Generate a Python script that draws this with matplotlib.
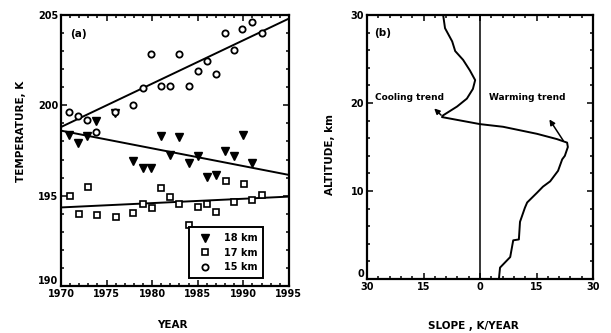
import matplotlib.pyplot as plt
from matplotlib.ticker import MultipleLocator, FuncFormatter
from matplotlib.lines import Line2D

# --- (a) temperature time series ---
years_18 = [1970.9, 1971.9, 1972.9, 1973.8, 1975.9, 1977.9, 1979.0, 1979.9, 1981.0,
            1982.0, 1982.9, 1984.0, 1985.0, 1986.0, 1987.0, 1988.0, 1989.0, 1990.0, 1991.0]
temp_18 = [198.36, 197.9, 198.3, 199.15, 199.6, 196.92, 196.52, 196.52, 198.3,
           197.25, 198.27, 196.83, 197.21, 196.05, 196.15, 197.49, 197.21, 198.36, 196.79]

years_17 = [1971.0, 1972.0, 1973.0, 1974.0, 1976.0, 1977.9, 1979.0, 1980.0, 1981.0, 1982.0,
            1983.0, 1984.0, 1985.0, 1986.0, 1987.0, 1988.1, 1989.0, 1990.1, 1991.0, 1992.0]
temp_17 = [194.98, 193.99, 195.46, 193.92, 193.81, 194.03, 194.52, 194.34, 195.41, 194.95,
           194.56, 193.36, 194.37, 194.52, 194.1, 195.83, 194.65, 195.63, 194.76, 195.04]

years_15 = [1970.9, 1971.9, 1972.9, 1973.8, 1975.9, 1977.9, 1979.0, 1979.9, 1981.0, 1982.0,
            1982.9, 1984.0, 1985.0, 1986.0, 1987.0, 1988.0, 1989.0, 1989.9, 1990.9, 1992.0]
temp_15 = [199.65, 199.43, 199.2, 198.5, 199.65, 200.0, 200.94, 202.82, 201.07, 201.07,
           202.82, 201.07, 201.9, 202.45, 201.72, 204.02, 203.06, 204.23, 204.63, 203.99]

# trend lines (end points as drawn)
trend_years = [1970, 1995]
trend_18 = [198.6, 196.15]
trend_17 = [194.35, 194.95]
trend_15 = [198.8, 204.8]

# --- (b) slope profile vs altitude ---
slope = [5.0, 5.3, 8.0, 8.8, 10.3, 10.6, 11.9, 12.5, 15.1, 16.7, 18.6, 20.7, 21.8, 22.5,
         23.3, 23.1, 20.4, 15.1, 6.1, 0.0, -10.1, -9.8, -6.1, -3.5, -1.9, -1.3, -2.7,
         -4.5, -6.6, -7.4, -9.3, -9.8]
altitude = [0.0, 1.3, 2.5, 4.4, 4.5, 6.5, 8.1, 8.7, 9.8, 10.5, 11.1, 12.3, 13.6, 14.0,
            15.0, 15.5, 15.9, 16.5, 17.3, 17.6, 18.4, 18.6, 19.6, 20.5, 21.6, 22.6, 23.7,
            24.9, 25.9, 27.0, 28.5, 30.0]

BOLD = dict(fontweight='bold', family='DejaVu Sans')


def style_axes(ax):
    for sp in ax.spines.values():
        sp.set_linewidth(1.6)
    ax.tick_params(which='both', direction='in', top=True, right=True,
                   width=1.1, labelsize=7, pad=2)
    ax.tick_params(which='major', length=4)
    ax.tick_params(which='minor', length=2.2)
    for lab in ax.get_xticklabels() + ax.get_yticklabels():
        lab.set_fontweight('bold')


fig = plt.figure(figsize=(6.11, 3.33), dpi=100)

# ---------------- panel (a) ----------------
ax1 = fig.add_axes([0.0998, 0.141, 0.373, 0.814])
ax1.plot(trend_years, trend_15, color='black', lw=1.4, zorder=2)
ax1.plot(trend_years, trend_18, color='black', lw=1.4, zorder=2)
ax1.plot(trend_years, trend_17, color='black', lw=1.4, zorder=2)

ax1.plot(years_18, temp_18, linestyle='none', marker='v', ms=5.3, color='black', zorder=3)
ax1.plot(years_17, temp_17, linestyle='none', marker='s', ms=4, mfc='white',
         mec='black', mew=1.2, zorder=3)
ax1.plot(years_15, temp_15, linestyle='none', marker='o', ms=4.5, mfc='white',
         mec='black', mew=1.3, zorder=3)

ax1.set_xlim(1970, 1995)
ax1.set_ylim(190, 205)
ax1.xaxis.set_major_locator(MultipleLocator(5))
ax1.xaxis.set_minor_locator(MultipleLocator(1))
ax1.yaxis.set_major_locator(MultipleLocator(5))
ax1.yaxis.set_minor_locator(MultipleLocator(1))
style_axes(ax1)

ax1.set_xlabel('YEAR', fontsize=7.5, **BOLD)
ax1.xaxis.set_label_coords(0.49, -0.125)
ax1.set_ylabel('TEMPERATURE, K', fontsize=7.5, **BOLD)
ax1.yaxis.set_label_coords(-0.155, 0.57)
ax1.text(0.04, 0.93, '(a)', transform=ax1.transAxes, fontsize=7.5, va='center', **BOLD)

handles = [
    Line2D([], [], linestyle='none', marker='v', ms=5.3, color='black'),
    Line2D([], [], linestyle='none', marker='s', ms=4, mfc='white', mec='black', mew=1.2),
    Line2D([], [], linestyle='none', marker='o', ms=4.5, mfc='white', mec='black', mew=1.3),
]
leg = ax1.legend(handles, ['18 km', '17 km', '15 km'], loc='lower left',
                 bbox_to_anchor=(0.56, 0.03), fancybox=False, framealpha=1,
                 edgecolor='black', prop=dict(weight='bold', size=7),
                 handletextpad=0.8, labelspacing=0.45, borderpad=0.6,
                 handlelength=2.2, borderaxespad=0)
leg.get_frame().set_linewidth(1.4)

# ---------------- panel (b) ----------------
ax2 = fig.add_axes([0.6007, 0.162, 0.370, 0.793])
ax2.axvline(0, color='black', lw=1.1)
ax2.plot(slope, altitude, color='black', lw=1.4)

ax2.set_xlim(-30, 30)
ax2.set_ylim(0, 30)
ax2.xaxis.set_major_locator(MultipleLocator(15))
ax2.xaxis.set_minor_locator(MultipleLocator(3))
ax2.yaxis.set_major_locator(MultipleLocator(10))
ax2.yaxis.set_minor_locator(MultipleLocator(2))
ax2.xaxis.set_major_formatter(FuncFormatter(lambda v, _: f'{abs(v):.0f}'))
style_axes(ax2)

ax2.set_xlabel('SLOPE , K/YEAR', fontsize=7.5, **BOLD)
ax2.xaxis.set_label_coords(0.47, -0.16)
ax2.set_ylabel('ALTITUDE, km', fontsize=7.5, **BOLD)
ax2.yaxis.set_label_coords(-0.14, 0.47)
ax2.text(0.03, 0.93, '(b)', transform=ax2.transAxes, fontsize=7.5, va='center', **BOLD)

ax2.text(-27.9, 20.6, 'Cooling trend', fontsize=6.5, va='center', **BOLD)
ax2.text(2.4, 20.6, 'Warming trend', fontsize=6.5, va='center', **BOLD)
ax2.annotate('', xy=(-12.7, 19.6), xytext=(-9.8, 18.4),
             arrowprops=dict(arrowstyle='-|>', color='black', lw=1.1, mutation_scale=8))
ax2.annotate('', xy=(18.0, 18.4), xytext=(22.5, 15.45),
             arrowprops=dict(arrowstyle='-|>', color='black', lw=1.1, mutation_scale=8))

# lowest y label sits just above the corner in the scan, clear of the x labels
fig.canvas.draw()
for ax in (ax1, ax2):
    ymin = ax.get_ylim()[0]
    for tick in ax.yaxis.get_major_ticks():
        if abs(tick.get_loc() - ymin) < 1e-6:
            tick.label1.set_verticalalignment('bottom')

fig.savefig('out.png', dpi=100)
